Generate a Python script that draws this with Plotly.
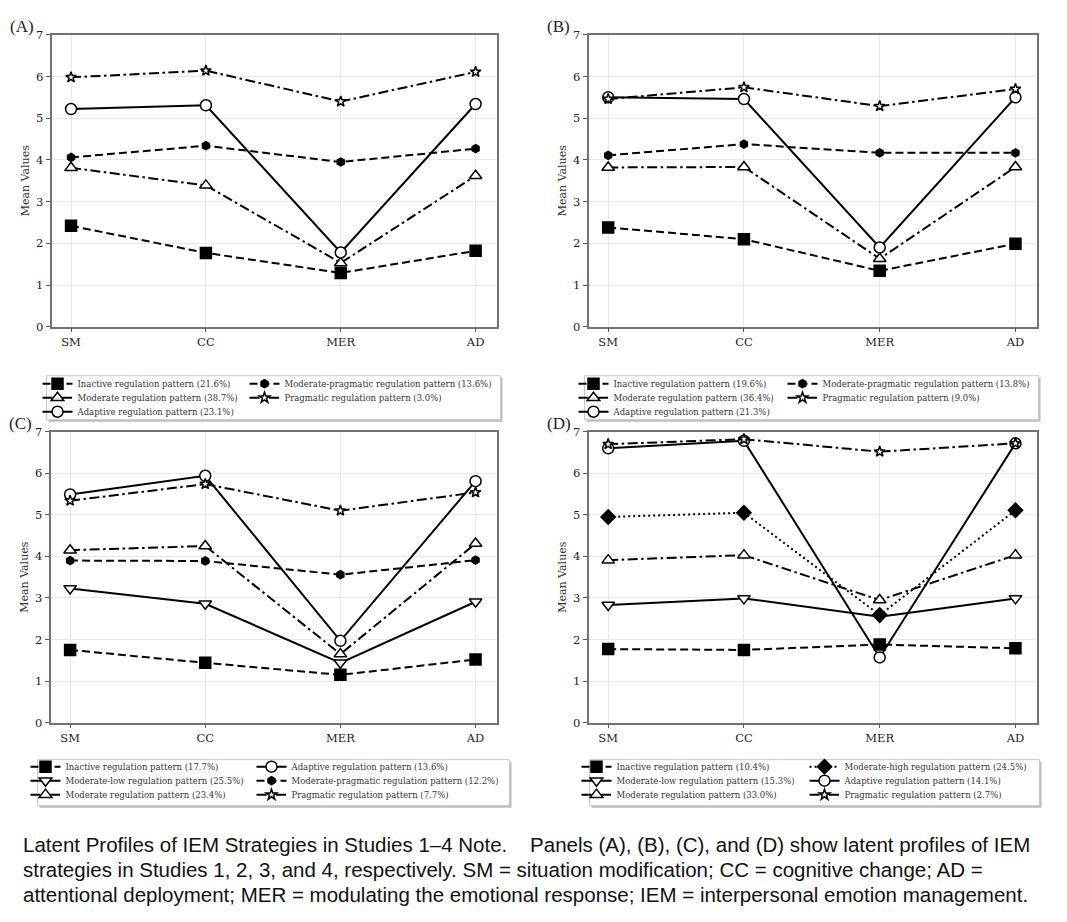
import plotly.graph_objects as go

# figure size in px, everything below is placed in page px then turned into paper coords
W, H = 1067, 922
X_OFF = 8.5             # page offset of the figure, horizontal
Y_OFF, Y_SCALE = 13.2, 0.985   # page offset / squeeze of the figure, vertical

categories = ["SM", "CC", "MER", "AD"]

# Panel A (Study 1)
a_inactive = [2.42, 1.77, 1.29, 1.82]
a_moderate = [3.81, 3.39, 1.53, 3.62]
a_adaptive = [5.22, 5.31, 1.78, 5.34]
a_mod_prag = [4.06, 4.34, 3.95, 4.27]
a_pragmatic = [5.98, 6.14, 5.40, 6.11]

# Panel B (Study 2)
b_inactive = [2.38, 2.10, 1.34, 1.99]
b_moderate = [3.82, 3.83, 1.63, 3.83]
b_adaptive = [5.50, 5.46, 1.90, 5.50]
b_mod_prag = [4.11, 4.38, 4.17, 4.17]
b_pragmatic = [5.46, 5.74, 5.29, 5.70]

# Panel C (Study 3)
c_inactive = [1.75, 1.44, 1.15, 1.52]
c_mod_low = [3.23, 2.86, 1.44, 2.91]
c_moderate = [4.15, 4.25, 1.65, 4.31]
c_adaptive = [5.49, 5.94, 1.97, 5.81]
c_mod_prag = [3.90, 3.89, 3.56, 3.91]
c_pragmatic = [5.34, 5.74, 5.10, 5.54]

# Panel D (Study 4)
d_inactive = [1.77, 1.75, 1.88, 1.79]
d_mod_low = [2.83, 2.99, 2.55, 2.99]
d_moderate = [3.91, 4.03, 2.95, 4.03]
d_mod_high = [4.95, 5.05, 2.59, 5.11]
d_adaptive = [6.60, 6.78, 1.57, 6.72]
d_pragmatic = [6.70, 6.82, 6.52, 6.72]

# line / marker style per profile type
DASH = "8px,4px"
DASHDOT = "10px,3.5px,2.5px,3.5px"
DOT = "2px,3px"
styles = {
    "inactive": dict(dash=DASH, symbol="square", size=11, fill="black"),
    "mod_low": dict(dash="solid", symbol="triangle-down", size=11, fill="white"),
    "moderate": dict(dash=DASHDOT, symbol="triangle-up", size=11, fill="white"),
    "mod_high": dict(dash=DOT, symbol="diamond", size=11, fill="black"),
    "adaptive": dict(dash="solid", symbol="circle", size=11, fill="white"),
    "mod_prag": dict(dash=DASH, symbol="hexagon", size=8, fill="black"),
    "pragmatic": dict(dash=DASHDOT, symbol="star", size=8, fill="white"),
}

# (kind, values, legend label, legend column, legend row)
panels = [
    dict(tag="(A)", box=(52, 33, 497, 325), leg=(47, 374, 501, 418), cols=(78, 285), rows=(382, 396, 410),
         series=[("inactive", a_inactive, "Inactive regulation pattern (21.6%)", 0, 0),
                 ("moderate", a_moderate, "Moderate regulation pattern (38.7%)", 0, 1),
                 ("adaptive", a_adaptive, "Adaptive regulation pattern (23.1%)", 0, 2),
                 ("mod_prag", a_mod_prag, "Moderate-pragmatic regulation pattern (13.6%)", 1, 0),
                 ("pragmatic", a_pragmatic, "Pragmatic regulation pattern (3.0%)", 1, 1)]),
    dict(tag="(B)", box=(589, 33, 1037, 325), leg=(585, 374, 1039, 418), cols=(614, 823), rows=(382, 396, 410),
         series=[("inactive", b_inactive, "Inactive regulation pattern (19.6%)", 0, 0),
                 ("moderate", b_moderate, "Moderate regulation pattern (36.4%)", 0, 1),
                 ("adaptive", b_adaptive, "Adaptive regulation pattern (21.3%)", 0, 2),
                 ("mod_prag", b_mod_prag, "Moderate-pragmatic regulation pattern (13.8%)", 1, 0),
                 ("pragmatic", b_pragmatic, "Pragmatic regulation pattern (9.0%)", 1, 1)]),
    dict(tag="(C)", box=(51, 430, 497, 721), leg=(38, 758, 510, 804), cols=(66, 292), rows=(765, 779, 793),
         series=[("inactive", c_inactive, "Inactive regulation pattern (17.7%)", 0, 0),
                 ("mod_low", c_mod_low, "Moderate-low regulation pattern (25.5%)", 0, 1),
                 ("moderate", c_moderate, "Moderate regulation pattern (23.4%)", 0, 2),
                 ("adaptive", c_adaptive, "Adaptive regulation pattern (13.6%)", 1, 0),
                 ("mod_prag", c_mod_prag, "Moderate-pragmatic regulation pattern (12.2%)", 1, 1),
                 ("pragmatic", c_pragmatic, "Pragmatic regulation pattern (7.7%)", 1, 2)]),
    dict(tag="(D)", box=(589, 430, 1037, 721), leg=(590, 758, 1040, 804), cols=(617, 845), rows=(765, 779, 793),
         series=[("inactive", d_inactive, "Inactive regulation pattern (10.4%)", 0, 0),
                 ("mod_low", d_mod_low, "Moderate-low regulation pattern (15.3%)", 0, 1),
                 ("moderate", d_moderate, "Moderate regulation pattern (33.0%)", 0, 2),
                 ("mod_high", d_mod_high, "Moderate-high regulation pattern (24.5%)", 1, 0),
                 ("adaptive", d_adaptive, "Adaptive regulation pattern (14.1%)", 1, 1),
                 ("pragmatic", d_pragmatic, "Pragmatic regulation pattern (2.7%)", 1, 2)]),
]


def px_x(x):
    return (x - X_OFF) / W


def px_y(y):
    return 1 - ((y - Y_OFF) / Y_SCALE) / H


SERIF = "DejaVu Serif"
fig = go.Figure()
layout = dict(width=W, height=H, autosize=False, margin=dict(l=0, r=0, t=0, b=0),
              paper_bgcolor="white", plot_bgcolor="white", showlegend=True)
shapes, annotations = [], []
legend_no = 0

for p_i, p in enumerate(panels):
    n = "" if p_i == 0 else str(p_i + 1)
    x0, y0, x1, y1 = p["box"]
    axis_common = dict(showline=True, mirror=True, linecolor="#737373", linewidth=1.5,
                       showgrid=True, gridcolor="#e8e8e8", gridwidth=1, zeroline=False,
                       ticks="outside", ticklen=4, tickcolor="#555",
                       tickfont=dict(family=SERIF, size=11.5, color="#222"))
    layout["xaxis" + n] = dict(axis_common, domain=[px_x(x0), px_x(x1)], anchor="y" + n,
                               type="category", categoryorder="array", categoryarray=categories,
                               range=[-0.145, 3.155])
    layout["yaxis" + n] = dict(axis_common, domain=[px_y(y1), px_y(y0)], anchor="x" + n,
                               range=[0, 7], dtick=1,
                               title=dict(text="Mean Values", standoff=4,
                                          font=dict(family=SERIF, size=11, color="#333")))
    annotations.append(dict(text=p["tag"], xref="paper", yref="paper", x=px_x(x0 - 44), y=px_y(y0 - 8),
                            xanchor="left", yanchor="middle", showarrow=False,
                            font=dict(family="Liberation Serif", size=17, color="#222")))

    # legend frame with a light shadow
    lx0, ly0, lx1, ly1 = p["leg"]
    shapes.append(dict(type="rect", xref="paper", yref="paper", x0=px_x(lx0 + 2), x1=px_x(lx1 + 2),
                       y0=px_y(ly1 + 2), y1=px_y(ly0 + 2), line=dict(width=0), fillcolor="#bdbdbd"))
    shapes.append(dict(type="rect", xref="paper", yref="paper", x0=px_x(lx0), x1=px_x(lx1),
                       y0=px_y(ly1), y1=px_y(ly0), line=dict(color="#c8c8c8", width=1), fillcolor="white"))

    for kind, vals, label, col, row in p["series"]:
        st = styles[kind]
        legend_no += 1
        lname = "legend" if legend_no == 1 else "legend%d" % legend_no
        fig.add_trace(go.Scatter(
            x=categories, y=vals, name=label, mode="lines+markers",
            xaxis="x" + n, yaxis="y" + n, legend=lname,
            line=dict(color="black", width=2, dash=st["dash"]),
            marker=dict(symbol=st["symbol"], size=st["size"], color=st["fill"],
                        line=dict(color="black", width=1.5)),
        ))
        layout[lname] = dict(x=px_x(p["cols"][col] - 40), y=px_y(p["rows"][row]),
                             xanchor="left", yanchor="middle", bgcolor="rgba(0,0,0,0)",
                             borderwidth=0, itemwidth=30, tracegroupgap=0,
                             font=dict(family=SERIF, size=8.5, color="#333"))

SP = " " + "\u00a0" * 3
caption = ["Latent Profiles of IEM Strategies in Studies 1\u20134 Note." + SP + "Panels (A), (B), (C), and (D) show latent profiles of IEM",
           "strategies in Studies 1, 2, 3, and 4, respectively. SM = situation modification; CC = cognitive change; AD =",
           "attentional deployment; MER = modulating the emotional response; IEM = interpersonal emotion management."]
for i, line in enumerate(caption):
    annotations.append(dict(text=line, xref="paper", yref="paper", x=px_x(21), y=px_y(843 + 25 * i),
                            xanchor="left", yanchor="middle", showarrow=False,
                            font=dict(family="Liberation Sans, Arial", size=20.5, color="#111")))

layout["shapes"] = shapes
layout["annotations"] = annotations
fig.update_layout(**layout)

fig.write_html("out.html")
